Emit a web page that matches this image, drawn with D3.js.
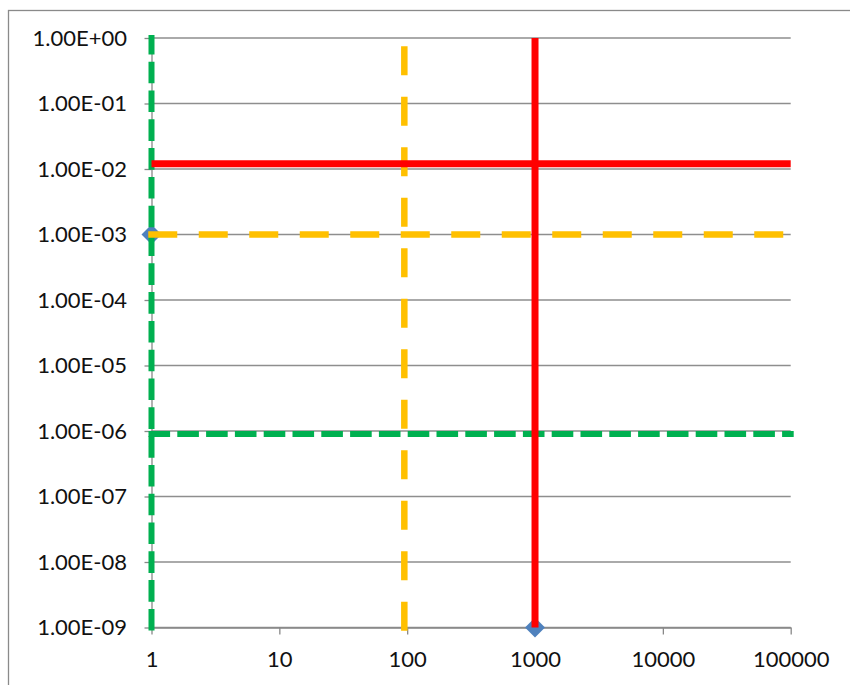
<!DOCTYPE html>
<html>
<head>
<meta charset="utf-8">
<script src="https://cdn.jsdelivr.net/npm/d3@7"></script>
<style>
  html, body { margin: 0; padding: 0; background: #fff; }
  svg { display: block; }
  .axis text { font-family: Lato, "Open Sans", sans-serif; font-size: 22px; fill: #111; }
  .axis path, .axis line { stroke: #888; stroke-width: 1.3; }
</style>
</head>
<body>
<svg id="chart" width="850" height="685"></svg>
<script>
// Axis ticks and labels
const xTicks = [1, 10, 100, 1000, 10000, 100000];
const xTickLabels = ["1", "10", "100", "1000", "10000", "100000"];
const yTicks = [1, 1e-1, 1e-2, 1e-3, 1e-4, 1e-5, 1e-6, 1e-7, 1e-8, 1e-9];
const yTickLabels = ["1.00E+00", "1.00E-01", "1.00E-02", "1.00E-03", "1.00E-04",
                     "1.00E-05", "1.00E-06", "1.00E-07", "1.00E-08", "1.00E-09"];

// Marker series (x, y)
const markerPoints = [[1, 1e-3], [1000, 1e-9]];

// Threshold lines, each a pair of (x, y) end points
const greenVertical   = [[1, 1e-9], [1, 1]];
const greenHorizontal = [[1, 9e-7], [100000, 9e-7]];
const orangeVertical   = [[95, 1e-9], [95, 1]];
const orangeHorizontal = [[1, 1e-3], [100000, 1e-3]];
const redVertical   = [[1000, 1e-9], [1000, 1]];
const redHorizontal = [[1, 0.012], [100000, 0.012]];

const svg = d3.select("#chart");

// outer chart frame
svg.append("rect")
  .attr("x", 8.5).attr("y", 10.5)
  .attr("width", 900).attr("height", 800)
  .attr("fill", "none").attr("stroke", "#8a8a8a").attr("stroke-width", 1.3);

const x = d3.scaleLog().domain([1, 100000]).range([151.5, 790.7]);
const y = d3.scaleLog().domain([1e-9, 1]).range([627.5, 38]);

// horizontal gridlines
svg.append("g")
  .selectAll("line")
  .data(yTicks)
  .join("line")
  .attr("x1", x(1)).attr("x2", x(100000))
  .attr("y1", d => y(d)).attr("y2", d => y(d))
  .attr("stroke", "#8e8e8e").attr("stroke-width", 1.3);

// axes
svg.append("g")
  .attr("class", "axis")
  .attr("transform", `translate(0,${y(1e-9)})`)
  .call(d3.axisBottom(x)
    .tickValues(xTicks)
    .tickFormat((d, i) => xTickLabels[i])
    .tickSizeInner(7).tickSizeOuter(0).tickPadding(17));

svg.append("g")
  .attr("class", "axis")
  .attr("transform", `translate(${x(1)},0)`)
  .call(d3.axisLeft(y)
    .tickValues(yTicks)
    .tickFormat((d, i) => yTickLabels[i])
    .tickSizeInner(7).tickSizeOuter(0).tickPadding(17.5));

// diamond markers
svg.append("g")
  .selectAll("path")
  .data(markerPoints)
  .join("path")
  .attr("transform", d => `translate(${x(d[0])},${y(d[1])}) rotate(45)`)
  .attr("d", d3.symbol(d3.symbolSquare, 200)())
  .attr("fill", "#4F81BD");

const line = d3.line().x(d => x(d[0])).y(d => y(d[1]));

const segments = [
  { pts: greenVertical,    color: "#00B050", width: 6,   dash: "15.6 13.2", cap: "square" },
  { pts: greenHorizontal,  color: "#00B050", width: 6,   dash: "15.6 13.2", cap: "square" },
  { pts: orangeVertical,   color: "#FFC000", width: 6.5, dash: "22.5 28",   cap: "square" },
  { pts: orangeHorizontal, color: "#FFC000", width: 6.5, dash: "22.5 28",   cap: "square" },
  { pts: redVertical,      color: "#FF0000", width: 7,   dash: null,        cap: "butt" },
  { pts: redHorizontal,    color: "#FF0000", width: 7,   dash: null,        cap: "butt" }
];

svg.append("g")
  .selectAll("path")
  .data(segments)
  .join("path")
  .attr("d", d => line(d.pts))
  .attr("fill", "none")
  .attr("stroke", d => d.color)
  .attr("stroke-width", d => d.width)
  .attr("stroke-dasharray", d => d.dash)
  .attr("stroke-linecap", d => d.cap);
</script>
</body>
</html>
